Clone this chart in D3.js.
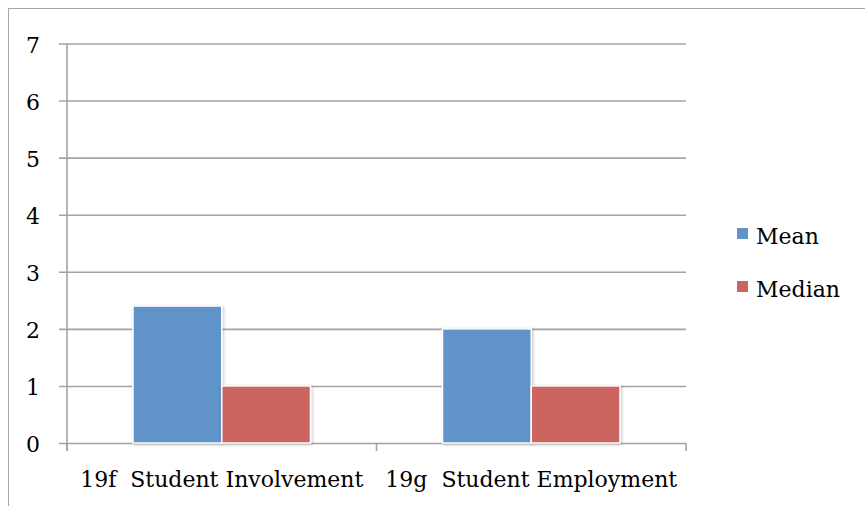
<!DOCTYPE html>
<html>
<head>
<meta charset="utf-8">
<script src="https://cdn.jsdelivr.net/npm/d3@7"></script>
<style>
  html, body { margin: 0; padding: 0; background: #fff; }
  svg { display: block; }
  text { font-family: "DejaVu Serif", serif; fill: #000; }
</style>
</head>
<body>
<svg id="chart" width="865" height="506"></svg>
<script>
// Survey items and their summary statistics
const categories = ["19f  Student Involvement", "19g  Student Employment"];
const seriesNames = ["Mean", "Median"];
const meanValues = [2.4, 2.0];
const medianValues = [1, 1];
const yTicks = [0, 1, 2, 3, 4, 5, 6, 7];
const colors = ["#6094c8", "#cc655f"];

const FONT = "'DejaVu Serif', serif";
const FS = "22px";

const svg = d3.select("#chart");

// chart frame
svg.append("rect")
  .attr("x", 8.5).attr("y", 8.5)
  .attr("width", 870).attr("height", 520)
  .attr("fill", "none").attr("stroke", "#a6a6a6").attr("stroke-width", 1);

const plot = { left: 67, right: 686, top: 43.5, bottom: 443 };

const x0 = d3.scaleBand().domain(categories).range([plot.left, plot.right]).padding(0);
const x1 = d3.scaleBand().domain(seriesNames).range([66, x0.bandwidth() - 66]).padding(0);
const y = d3.scaleLinear().domain([0, 7]).range([plot.bottom, plot.top]);

// horizontal gridlines, each with a short tick left of the axis
const yAxis = d3.axisLeft(y).tickValues(yTicks).tickSize(0).tickPadding(0).tickFormat(d3.format("d"));
const gy = svg.append("g").attr("transform", `translate(${plot.left},0)`).call(yAxis);
gy.select(".domain").remove();
gy.selectAll(".tick line")
  .attr("x1", -8).attr("x2", plot.right - plot.left)
  .attr("stroke", "#a3a3a3").attr("stroke-width", 1.6);
gy.selectAll(".tick text")
  .attr("x", -27)
  .attr("dy", "0.4em")
  .style("font-family", FONT)
  .style("font-size", FS)
  .attr("fill", "#000");

// vertical axis line
svg.append("line")
  .attr("x1", plot.left).attr("x2", plot.left)
  .attr("y1", plot.top).attr("y2", plot.bottom + 8)
  .attr("stroke", "#a3a3a3").attr("stroke-width", 1.6);

// category labels along the bottom
const xAxis = d3.axisBottom(x0).tickSize(0).tickPadding(0);
const gx = svg.append("g").attr("transform", `translate(0,${plot.bottom})`).call(xAxis);
gx.select(".domain").remove();
gx.selectAll(".tick text")
  .attr("y", 44)
  .attr("dy", 0)
  .style("font-family", FONT)
  .style("font-size", FS)
  .style("white-space", "pre")
  .attr("fill", "#000");

// category boundary tick marks
[plot.left, ...categories.map(c => x0(c) + x0.bandwidth())].forEach(xv => {
  svg.append("line")
    .attr("x1", xv).attr("x2", xv)
    .attr("y1", plot.bottom).attr("y2", plot.bottom + 8)
    .attr("stroke", "#a3a3a3").attr("stroke-width", 1.6);
});

// soft shadow behind bars
const defs = svg.append("defs");
const f = defs.append("filter").attr("id", "shadow").attr("x", "-20%").attr("y", "-20%").attr("width", "140%").attr("height", "140%");
f.append("feDropShadow").attr("dx", 1).attr("dy", 1).attr("stdDeviation", 1.5).attr("flood-color", "#000").attr("flood-opacity", 0.25);

const rows = categories.map((c, i) => ({ cat: c, values: [meanValues[i], medianValues[i]] }));
const groups = svg.append("g").selectAll("g").data(rows).join("g")
  .attr("transform", d => `translate(${x0(d.cat)},0)`);
groups.selectAll("rect")
  .data(d => d.values.map((v, j) => ({ name: seriesNames[j], value: v, color: colors[j] })))
  .join("rect")
  .attr("x", d => x1(d.name))
  .attr("y", d => y(d.value))
  .attr("width", x1.bandwidth())
  .attr("height", d => y(0) - y(d.value))
  .attr("fill", d => d.color)
  .attr("stroke", "#fff").attr("stroke-width", 1.5)
  .attr("filter", "url(#shadow)");

// legend
const legend = svg.append("g").selectAll("g").data(seriesNames).join("g")
  .attr("transform", (d, i) => `translate(737,${228 + i * 53})`);
legend.append("rect").attr("width", 11).attr("height", 11).attr("fill", (d, i) => colors[i]);
legend.append("text")
  .attr("x", 19).attr("y", 16)
  .style("font-family", FONT)
  .style("font-size", FS)
  .text(d => d);
</script>
</body>
</html>
